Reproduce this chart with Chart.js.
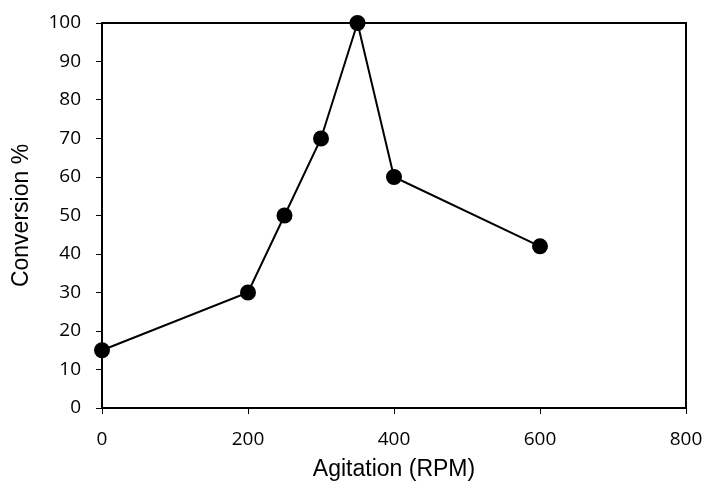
<!DOCTYPE html>
<html>
<head>
<meta charset="utf-8">
<script src="https://cdn.jsdelivr.net/npm/chart.js@4/dist/chart.umd.min.js"></script>
<style>
  html, body { margin: 0; padding: 0; background: #fff; }
  #wrap { width: 704px; height: 481px; }
</style>
</head>
<body>
<div id="wrap"><canvas id="c" width="704" height="481"></canvas></div>
<script>
// Agitation speed (RPM) and measured conversion (%)
const agitationRPM = [0, 200, 250, 300, 350, 400, 600];
const conversionPct = [15, 30, 50, 70, 100, 60, 42];
const xTicks = [0, 200, 400, 600, 800];
const yTicks = [0, 10, 20, 30, 40, 50, 60, 70, 80, 90, 100];

const tickFont = { family: '"Open Sans", sans-serif', size: 19 };
const titleFont = { family: '"Liberation Sans", Arial, sans-serif', size: 23, lineHeight: 1 };

// Closes the plot frame on the top and right sides
const frame = {
  id: 'frame',
  afterDraw(chart) {
    const { ctx, chartArea: a } = chart;
    ctx.save();
    ctx.strokeStyle = '#000';
    ctx.lineWidth = 2;
    ctx.beginPath();
    ctx.moveTo(a.left, a.top);
    ctx.lineTo(a.right, a.top);
    ctx.lineTo(a.right, a.bottom);
    ctx.stroke();
    ctx.restore();
  }
};

new Chart(document.getElementById('c'), {
  type: 'scatter',
  data: {
    datasets: [{
      data: agitationRPM.map((x, i) => ({ x, y: conversionPct[i] })),
      showLine: true,
      borderColor: '#000',
      borderWidth: 2,
      backgroundColor: '#000',
      pointRadius: 7,
      pointHoverRadius: 7,
      clip: false
    }]
  },
  options: {
    responsive: false,
    animation: false,
    layout: { padding: { left: 0, right: 18, top: 23, bottom: 0 } },
    plugins: { legend: { display: false }, tooltip: { enabled: false } },
    scales: {
      x: {
        type: 'linear',
        min: 0, max: 800,
        afterBuildTicks: s => { s.ticks = xTicks.map(v => ({ value: v })); },
        afterFit: s => { s.height = 73; s.paddingLeft = 0; s.paddingRight = 0; },
        border: { color: '#000', width: 2 },
        grid: { drawOnChartArea: false, drawTicks: true, tickLength: 6, color: '#000', tickWidth: 1 },
        ticks: { color: '#000', font: tickFont, padding: 14, maxRotation: 0 },
        title: { display: true, text: 'Agitation (RPM)', color: '#000', font: titleFont, padding: { top: 0, bottom: 0 } }
      },
      y: {
        type: 'linear',
        min: 0, max: 100,
        afterBuildTicks: s => { s.ticks = yTicks.map(v => ({ value: v })); },
        afterFit: s => { s.width = 102; s.paddingTop = 0; s.paddingBottom = 0; },
        border: { color: '#000', width: 2 },
        grid: { drawOnChartArea: false, drawTicks: true, tickLength: 6, color: '#000', tickWidth: 1 },
        ticks: { color: '#000', font: tickFont, padding: 15 },
        title: { display: true, text: 'Conversion %', color: '#000', font: titleFont, padding: { top: 10.5, bottom: 0 } }
      }
    }
  },
  plugins: [frame]
});
</script>
</body>
</html>
